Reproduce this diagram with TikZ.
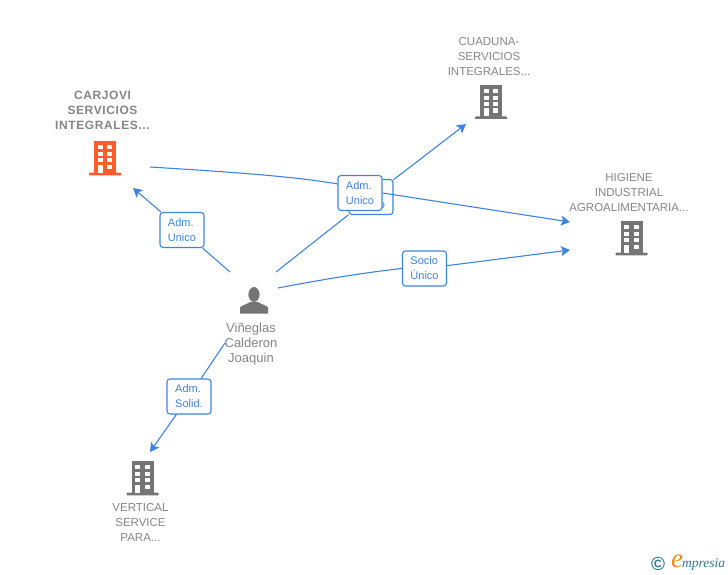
\documentclass[tikz,border=0pt]{standalone}
\usepackage{fontspec}
\setmainfont{Liberation Sans}
\newfontfamily\logofont{Liberation Serif}
\usetikzlibrary{arrows.meta}
\definecolor{linkblue}{HTML}{3F83E0}
\definecolor{labelgray}{HTML}{858585}
\definecolor{icongray}{HTML}{757575}
\definecolor{iconorange}{HTML}{FF5B2B}
\definecolor{logoteal}{HTML}{2F7A90}
\definecolor{logoorange}{HTML}{F08A1D}

\begin{document}
\begin{tikzpicture}[x=1pt,y=-1pt]
    \tikzstyle{every node}=[inner sep=0,font=\fontsize{11.5}{15}\selectfont]
    \tikzstyle{linkline}=[linkblue, line width=1.1]
    \tikzstyle{linkarrow}=[linkblue, line width=1.1, -{Stealth[length=9,width=10,inset=2]}]
    \tikzstyle{linkbox}=[draw=linkblue, line width=1.1, fill=white, rounded corners=3,
        minimum width=44, minimum height=35, align=left, text=linkblue,
        font=\fontsize{11}{15}\selectfont]
    \tikzstyle{namelabel}=[align=center, text=labelgray]
    \tikzstyle{buildingicon}=[minimum width=32, minimum height=34, path picture={
        \begin{scope}[shift={(path picture bounding box.center)}]
            \fill[#1] (-11,-17) rectangle (11,15);
            \fill[#1, rounded corners=0.8] (-16,14.5) rectangle (16,17.4);
            \foreach \ya/\yb in {-13.2/-8.8,-6.2/-1.8,0.2/4.2,6.5/10.8}
                \fill[white] (2.3,\ya) rectangle (7.3,\yb);
            \foreach \ya/\yb in {-13.2/-8.8,-6.2/-1.8,0.2/4.2}
                \fill[white] (-7.3,\ya) rectangle (-2.3,\yb);
            \fill[white] (-7.3,6.5) rectangle (-2.3,14.5);
        \end{scope}}]
    \tikzstyle{personicon}=[minimum width=28, minimum height=27, path picture={
        \begin{scope}[shift={(path picture bounding box.center)}]
            \fill[icongray] (0,-5.5) ellipse (5.6 and 7.5);
            \fill[icongray] (-14,13.5) -- (-14,8) .. controls (-14,5.5) and (-8,5) .. (-4,2)
                -- (4,2) .. controls (8,5) and (14,5.5) .. (14,8) -- (14,13.5) -- cycle;
        \end{scope}}]
    \useasboundingbox (0,0) rectangle (728,575);
    % draw icons
    \node[buildingicon=iconorange] (carjovi) at (105,158) {};
    \node[buildingicon=icongray] (cuaduna) at (491,102) {};
    \node[buildingicon=icongray] (higiene) at (631.5,238) {};
    \node[buildingicon=icongray] (vertical) at (142.5,478) {};
    \node[personicon] (vinneglas) at (254,300) {};
    % draw names
    \node[namelabel, font=\fontsize{12}{15}\selectfont\bfseries\addfontfeature{LetterSpace=5}] (carjovitext) at (102.5,110.5) {CARJOVI\\SERVICIOS\\INTEGRALES...};
    \node[namelabel] (cuadunatext) at (489,56.5) {CUADUNA-\\SERVICIOS\\INTEGRALES...};
    \node[namelabel] (higienetext) at (629,192.5) {HIGIENE\\INDUSTRIAL\\AGROALIMENTARIA...};
    \node[namelabel] (verticaltext) at (140.5,522.5) {VERTICAL\\SERVICE\\PARA...};
    \node[namelabel, font=\fontsize{13}{15}\selectfont] (vinneglastext) at (251,344) {Viñeglas\\Calderon\\Joaquin};
    % draw link boxes
    \node[linkbox] (boxcuaduna) at (371,197) {Adm.\\Unico};
    \node[linkbox] (boxhigiene) at (360,193) {Adm.\\Unico};
    \node[linkbox] (boxcarjovi) at (182,230) {Adm.\\Unico};
    \node[linkbox] (boxsocio) at (424.5,268.5) {Socio\\Único};
    \node[linkbox] (boxsolid) at (189,396.5) {Adm.\\Solid.};
    % free ends of the links
    \coordinate (startcarjovi) at (230,272);
    \coordinate (endcarjovi) at (133,188);
    \coordinate (startcuaduna) at (276,272);
    \coordinate (endcuaduna) at (466,124);
    \coordinate (starthigiene) at (150,167);
    \coordinate (endhigiene) at (570,222);
    \coordinate (startsocio) at (278,288);
    \coordinate (endsocio) at (570,250);
    \coordinate (startsolid) at (225,343);
    \coordinate (endsolid) at (150,452);
    % draw links
    \draw[linkline] (startcarjovi) -- (boxcarjovi);
    \draw[linkarrow] (boxcarjovi) -- (endcarjovi);
    \draw[linkline] (startcuaduna) -- (boxcuaduna);
    \draw[linkarrow] (boxcuaduna) -- (endcuaduna);
    \draw[linkline] (starthigiene) .. controls (230,172) and (290,176) .. (boxhigiene.158);
    \draw[linkarrow] (boxhigiene.east) -- (endhigiene);
    \draw[linkline] (startsocio) .. controls (330,278) and (370,272) .. (boxsocio.west);
    \draw[linkarrow] (boxsocio) -- (endsocio);
    \draw[linkline] (startsolid) -- (boxsolid);
    \draw[linkarrow] (boxsolid) -- (endsolid);
    % draw logo
    \node[text=logoteal, font=\fontsize{19}{19}\selectfont\bfseries] (logocopy) at (658,564) {\textcopyright};
    \node[text=logoorange, font=\logofont\fontsize{27}{27}\selectfont\itshape] (logoe) at (677,561) {e};
    \node[text=logoteal, font=\logofont\fontsize{13.5}{14}\selectfont\itshape, anchor=west] (logotext) at (682,564) {mpresia};
\end{tikzpicture}
\end{document}
